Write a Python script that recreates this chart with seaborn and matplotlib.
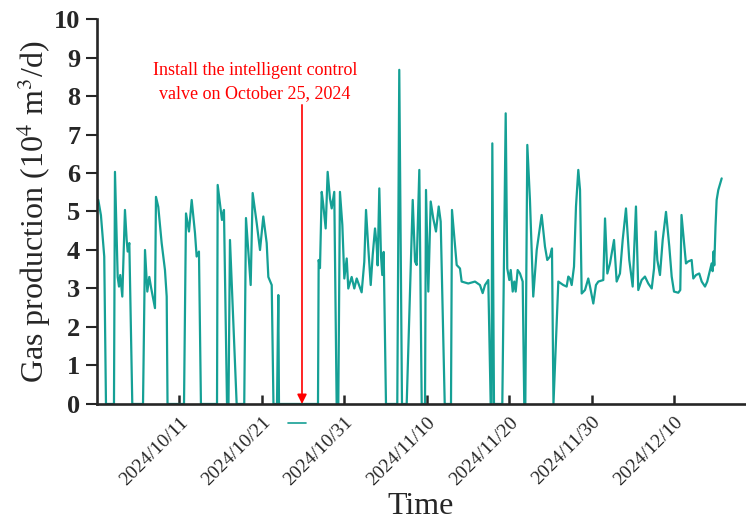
import numpy as np
import pandas as pd
import matplotlib
matplotlib.use("Agg")
import matplotlib.pyplot as plt
import seaborn as sns

# ---- data (days since 2024-10-01, gas production 10^4 m3/d) ----
days = [0.00, 0.16, 0.48, 0.88, 1.09, 2.06, 2.18, 2.51, 2.67, 2.82, 3.07, 3.39, 3.60, 3.72, 3.92, 4.28,
        5.58, 5.82, 6.10, 6.34, 6.55, 7.03, 7.15, 7.43, 7.84, 8.24, 8.45, 8.55,
        10.55, 10.79, 11.15, 11.48, 11.88, 12.08, 12.36, 12.60,
        14.55, 14.63, 15.15, 15.39, 15.76, 15.94, 16.12, 16.93,
        17.85, 18.06, 18.63, 18.87, 19.36, 19.76, 20.16, 20.57, 20.77, 21.18, 21.39,
        21.82, 21.98, 22.06,
        26.79, 26.87, 27.03, 27.24, 27.43, 27.72, 27.96, 28.24, 28.45, 28.76, 29.05,
        29.25, 29.45, 29.74, 29.98, 30.27, 30.46, 30.87, 31.19, 31.48, 31.76, 32.08, 32.40,
        32.61, 32.89, 33.18, 33.42, 33.70, 33.90, 34.02, 34.22, 34.42, 34.58, 34.75, 35.03,
        36.40, 36.64, 36.97,
        37.54, 38.27, 38.55, 38.75, 39.07, 39.36,
        39.76, 39.88, 40.16, 40.45, 40.76, 41.09, 41.42, 41.66, 42.15,
        42.91, 43.03, 43.39, 43.60, 44.00, 44.20, 45.00, 45.82, 46.42, 46.75, 47.03, 47.43, 47.72,
        47.82, 47.92, 48.12,
        49.13, 49.54, 49.73, 49.98, 50.15, 50.39, 50.58, 50.75, 50.99, 51.27, 51.60, 51.79,
        51.92, 52.16, 52.48, 52.88, 53.30, 53.90, 54.30, 54.58, 54.91, 55.15, 55.33,
        55.92, 56.52, 56.93, 57.13, 57.33, 57.54, 57.82, 58.06, 58.34, 58.55, 58.75, 59.15,
        59.55, 59.76, 60.16, 60.48, 60.77, 61.37, 61.58, 61.86, 62.18, 62.67, 62.99, 63.39,
        63.72, 64.12, 64.52, 64.93, 65.33, 65.61, 66.02, 66.42, 66.82, 67.24, 67.52, 67.72,
        67.92, 68.24, 68.57, 68.97, 69.37, 69.66, 69.94, 70.46, 70.70, 70.85, 71.39, 71.64,
        72.08, 72.28, 72.61, 73.00, 73.30, 73.70, 73.97, 74.30, 74.50, 74.62, 74.73, 74.82,
        74.97, 75.11, 75.31, 75.72]
gas = [5.30, 5.30, 4.90, 3.83, 0, 0, 6.03, 3.30, 3.05, 3.35, 2.79, 5.04, 4.26, 3.96, 4.18, 0,
       0, 4.00, 2.92, 3.30, 3.03, 2.49, 5.38, 5.12, 4.18, 3.48, 2.79, 0,
       0, 4.95, 4.48, 5.30, 4.44, 3.83, 3.96, 0,
       0, 5.69, 4.78, 5.04, 0, 0, 4.26, 0,
       0, 4.83, 3.09, 5.48, 4.70, 4.00, 4.87, 4.18, 3.30, 3.09, 0,
       0, 2.83, 0,
       0, 3.74, 3.53, 5.51, 5.17, 4.56, 6.03, 5.34, 5.08, 5.51, 0,
       0, 5.51, 4.65, 3.26, 3.78, 3.00, 3.30, 3.00, 3.26, 3.09, 2.90, 3.69,
       5.04, 4.04, 3.09, 3.87, 4.56, 4.13, 3.60, 5.60, 3.87, 3.35, 3.95, 0,
       0, 8.68, 0,
       0, 5.30, 3.70, 3.61, 6.08, 0,
       0, 5.56, 2.92, 5.26, 4.82, 4.48, 5.13, 4.74, 0,
       0, 5.04, 4.13, 3.61, 3.52, 3.18, 3.13, 3.18, 3.09, 2.88, 3.09, 3.22, 0,
       0, 6.77, 0,
       0, 7.55, 3.52, 3.22, 3.48, 2.92, 3.18, 2.92, 3.48, 3.39, 3.18, 0,
       0, 6.73, 5.30, 2.79, 4.00, 4.91, 4.09, 3.74, 3.83, 4.04, 0,
       3.18, 3.09, 3.05, 3.31, 3.26, 3.09, 3.57, 5.13, 6.08, 5.56, 2.87, 2.96,
       3.26, 3.05, 2.61, 3.09, 3.18, 3.22, 4.82, 3.39, 3.65, 4.26, 3.18, 3.39,
       4.26, 5.08, 3.74, 3.05, 5.13, 2.96, 3.22, 3.31, 3.13, 3.00, 3.52, 4.48,
       3.74, 3.35, 4.26, 4.99, 4.09, 3.31, 2.92, 2.89, 2.96, 4.91, 3.65, 3.70,
       3.74, 3.26, 3.35, 3.39, 3.18, 3.05, 3.18, 3.48, 3.65, 3.45, 3.96, 3.60,
       4.60, 5.30, 5.56, 5.86]

# short segment drawn below the axis near the valve installation date
seg_days = [23.15, 25.33]
seg_gas = [-0.5, -0.5]

start = pd.Timestamp("2024-10-01")
tick_labels = ["2024/10/11", "2024/10/21", "2024/10/31", "2024/11/10",
               "2024/11/20", "2024/11/30", "2024/12/10"]
y_ticks = [0, 1, 2, 3, 4, 5, 6, 7, 8, 9, 10]
install_day = 24.85
annot_text = "Install the intelligent control\nvalve on October 25, 2024"

df = pd.DataFrame({"date": start + pd.to_timedelta(days, unit="D"), "gas": gas})
seg = pd.DataFrame({"date": start + pd.to_timedelta(seg_days, unit="D"), "gas": seg_gas})

sns.set_style("ticks")
plt.rcParams["font.family"] = ["Liberation Serif", "DejaVu Serif"]
plt.rcParams["mathtext.fontset"] = "stix"

color = "#15a095"
fig = plt.figure(figsize=(7.46, 5.21), dpi=100)
ax = fig.add_axes([0.130, 0.2246, 0.8687, 0.7389])

sns.lineplot(data=df, x="date", y="gas", ax=ax, color=color, lw=1.6,
             estimator=None, sort=False)
sns.lineplot(data=seg, x="date", y="gas", ax=ax, color=color, lw=1.2,
             estimator=None, sort=False)
ax.lines[-1].set_clip_on(False)

ax.set_ylim(0, 10)
ax.set_xlim(start, start + pd.Timedelta(days=78.55))
ax.set_yticks(y_ticks)
ax.set_yticklabels([str(v) for v in y_ticks], fontweight="bold", fontsize=19)
xt = pd.to_datetime(tick_labels, format="%Y/%m/%d")
ax.set_xticks(xt)
ax.set_xticklabels(tick_labels, rotation=45, ha="right", va="top",
                   rotation_mode="anchor", fontsize=14)

ax.tick_params(axis="y", direction="out", length=8, width=1.5, pad=4)
ax.tick_params(axis="x", direction="in", length=6.5, width=1.8, pad=7)
for s in ["top", "right"]:
    ax.spines[s].set_visible(False)
for s in ["left", "bottom"]:
    ax.spines[s].set_linewidth(1.9)
    ax.spines[s].set_zorder(3)

ax.set_ylabel(r"Gas production (10$^{4}$ m$^{3}$/d)", fontsize=23, labelpad=1)
ax.set_xlabel("Time", fontsize=23, labelpad=2)

xd = start + pd.Timedelta(days=install_day)
ax.annotate("", xy=(xd, 0), xytext=(xd, 7.77),
            arrowprops=dict(arrowstyle="-|>", color="red", lw=1.2,
                            mutation_scale=14, shrinkA=0, shrinkB=0))
ax.text(start + pd.Timedelta(days=19.15), 8.36, annot_text, color="red",
        fontsize=13, ha="center", va="center", linespacing=1.5)

fig.savefig("out.png", dpi=100)
